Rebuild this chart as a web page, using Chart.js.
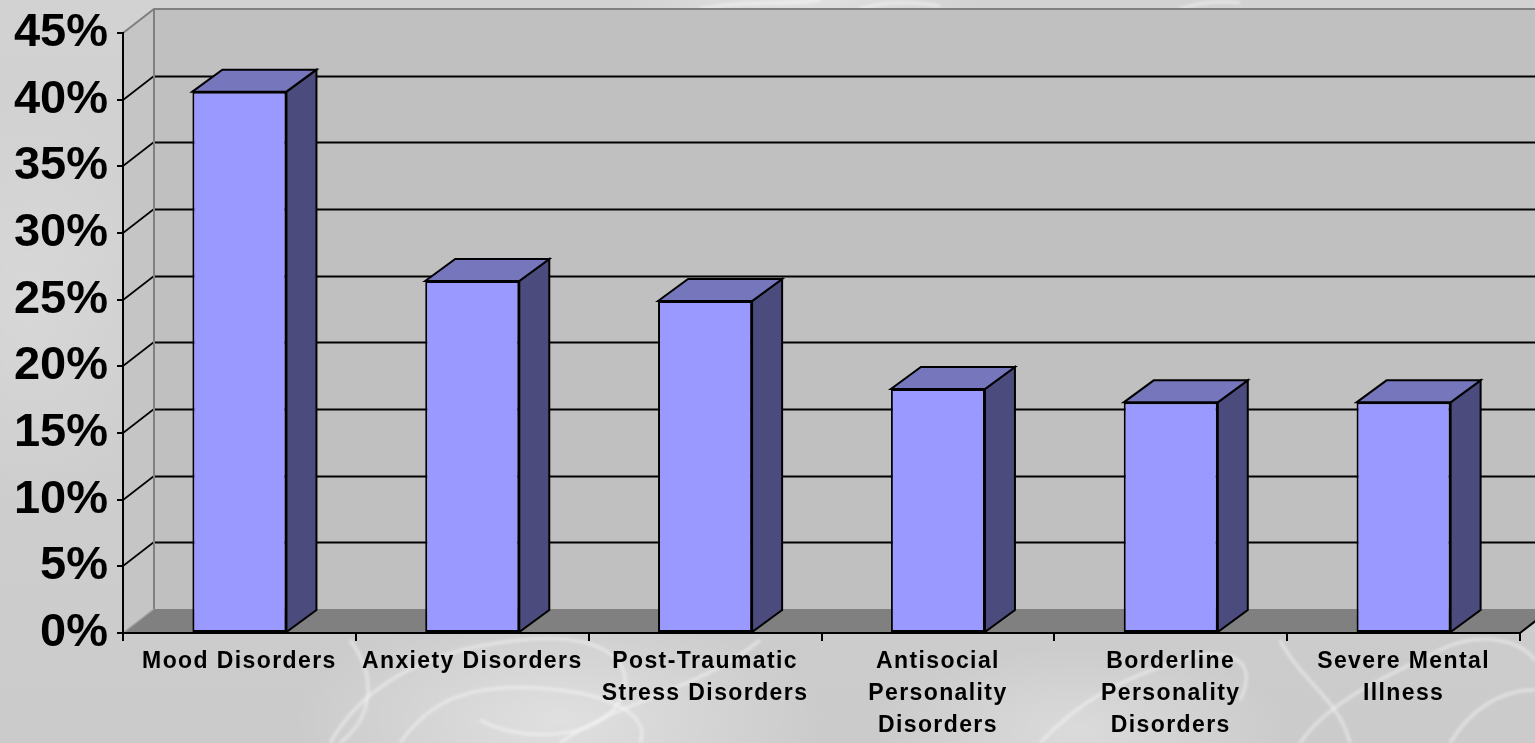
<!DOCTYPE html>
<html>
<head>
<meta charset="utf-8">
<script src="https://cdn.jsdelivr.net/npm/chart.js@4.4.1/dist/chart.umd.min.js"></script>
<style>
  html, body { margin: 0; padding: 0; }
  body {
    width: 1535px; height: 743px; overflow: hidden;
    background-color: #cecece;
    background-image:
      radial-gradient(ellipse 380px 160px at 560px 720px, rgba(255,255,255,0.40), rgba(255,255,255,0) 70%),
      radial-gradient(ellipse 300px 120px at 1080px 730px, rgba(255,255,255,0.30), rgba(255,255,255,0) 70%),
      radial-gradient(ellipse 260px 40px at 800px 0px, rgba(255,255,255,0.35), rgba(255,255,255,0) 70%),
      radial-gradient(ellipse 200px 300px at 30px 300px, rgba(255,255,255,0.18), rgba(255,255,255,0) 70%),
      linear-gradient(180deg, #d2d2d2 0%, #cbcbcb 100%);
  }
  #wrap { position: relative; width: 1535px; height: 743px; }
  #smoke { position: absolute; left: 0; top: 0; width: 1535px; height: 743px; }
  #chart { position: relative; }
</style>
</head>
<body>
<div id="wrap">
  <!-- faint smoke curves behind the chart -->
  <svg id="smoke" width="1535" height="743" viewBox="0 0 1535 743">
    <defs><filter id="soft"><feGaussianBlur stdDeviation="1.6"/></filter></defs>
    <g fill="none" stroke="white" stroke-opacity="0.45" stroke-width="3" filter="url(#soft)">
      <path d="M330,743 C360,690 420,650 520,640 C600,632 640,660 620,700 C600,740 520,743 480,720"/>
      <path d="M400,743 C430,700 470,680 560,690 C620,697 650,720 640,743"/>
      <path d="M560,743 C620,700 700,690 760,640"/>
      <path d="M350,640 C380,680 370,720 340,743"/>
      <path d="M1040,743 C1080,700 1120,680 1180,660 C1230,645 1260,660 1240,700"/>
      <path d="M1280,640 C1300,680 1340,700 1350,743"/>
      <path d="M1300,743 C1330,700 1380,680 1440,650 C1480,630 1520,640 1535,660"/>
      <path d="M1450,743 C1470,710 1500,690 1535,690"/>
      <path d="M700,9 C740,0 780,6 820,0"/>
      <path d="M860,9 C880,3 900,0 940,6"/>
      <path d="M1180,9 C1200,2 1220,0 1240,3"/>
    </g>
  </svg>
  <canvas id="chart"></canvas>
</div>
<script>
// Share of the population with each diagnosis (percent)
const categories = [
  'Mood Disorders',
  'Anxiety Disorders',
  ['Post-Traumatic', 'Stress Disorders'],
  ['Antisocial', 'Personality', 'Disorders'],
  ['Borderline', 'Personality', 'Disorders'],
  ['Severe Mental', 'Illness']
];
const prevalence = [40.6, 26.4, 24.9, 18.3, 17.3, 17.3];
const yTicks = [0, 5, 10, 15, 20, 25, 30, 35, 40, 45];

// depth offsets of the 3D box (walls) and of each column
const WALL_DX = 31, WALL_DY = 24;
const BAR_DX = 30, BAR_DY = 22;

const FONT = "'Liberation Sans', Arial, sans-serif";

// Back wall, side wall, floor and wall gridlines
const walls3d = {
  id: 'walls3d',
  beforeDraw(chart) {
    const ctx = chart.ctx;
    const y = chart.scales.y, x = chart.scales.x;
    const L = x.left, R = x.right;
    const T = y.getPixelForValue(45), B = y.getPixelForValue(0);
    const W = chart.width;
    ctx.save();
    // back wall
    ctx.fillStyle = '#c0c0c0';
    ctx.fillRect(L + WALL_DX, T - WALL_DY, W - (L + WALL_DX), B - T);
    // side wall
    ctx.fillStyle = '#c5c5c5';
    ctx.beginPath();
    ctx.moveTo(L, T); ctx.lineTo(L + WALL_DX, T - WALL_DY);
    ctx.lineTo(L + WALL_DX, B - WALL_DY); ctx.lineTo(L, B);
    ctx.closePath(); ctx.fill();
    // floor
    ctx.fillStyle = '#808080';
    ctx.beginPath();
    ctx.moveTo(L, B); ctx.lineTo(L + WALL_DX, B - WALL_DY);
    ctx.lineTo(R + WALL_DX, B - WALL_DY); ctx.lineTo(R, B);
    ctx.closePath(); ctx.fill();

    // gridlines on the back wall and side wall
    ctx.strokeStyle = '#000';
    ctx.lineWidth = 2;
    yTicks.forEach(v => {
      if (v === 0 || v === 45) return;
      const py = Math.round(y.getPixelForValue(v));
      ctx.beginPath();
      ctx.moveTo(L + WALL_DX, py - WALL_DY + 0.5);
      ctx.lineTo(W, py - WALL_DY + 0.5);
      ctx.stroke();
      ctx.lineWidth = 1.6;
      ctx.beginPath();
      ctx.moveTo(L, py); ctx.lineTo(L + WALL_DX, py - WALL_DY);
      ctx.stroke();
      ctx.lineWidth = 2;
    });

    // wall edges
    ctx.strokeStyle = '#808080';
    ctx.lineWidth = 2;
    ctx.beginPath();
    ctx.moveTo(L, T); ctx.lineTo(L + WALL_DX, T - WALL_DY); ctx.lineTo(W, T - WALL_DY);
    ctx.moveTo(L + WALL_DX, T - WALL_DY); ctx.lineTo(L + WALL_DX, B - WALL_DY);
    ctx.stroke();
    ctx.lineWidth = 1.5;
    ctx.strokeStyle = '#a0a0a0';
    ctx.beginPath();
    ctx.moveTo(L, B); ctx.lineTo(L + WALL_DX, B - WALL_DY);
    ctx.stroke();
    // right end of the floor edge
    ctx.strokeStyle = '#000';
    ctx.lineWidth = 2;
    ctx.beginPath();
    ctx.moveTo(R, B); ctx.lineTo(R + WALL_DX, B - WALL_DY);
    ctx.stroke();
    ctx.restore();
  }
};

// Top and right faces of each column, built from the bar elements
const columns3d = {
  id: 'columns3d',
  afterDatasetsDraw(chart) {
    const ctx = chart.ctx;
    ctx.save();
    ctx.lineWidth = 2;
    ctx.lineJoin = 'miter';
    ctx.strokeStyle = '#000';
    chart.getDatasetMeta(0).data.forEach(bar => {
      const p = bar.getProps(['x', 'y', 'base', 'width'], true);
      const l = p.x - p.width / 2, r = p.x + p.width / 2;
      const top = p.y, base = p.base;
      // right face
      ctx.fillStyle = '#4b4b7e';
      ctx.beginPath();
      ctx.moveTo(r, top); ctx.lineTo(r + BAR_DX, top - BAR_DY);
      ctx.lineTo(r + BAR_DX, base - BAR_DY); ctx.lineTo(r, base);
      ctx.closePath(); ctx.fill(); ctx.stroke();
      // top face
      ctx.fillStyle = '#7676bd';
      ctx.beginPath();
      ctx.moveTo(l, top); ctx.lineTo(l + BAR_DX, top - BAR_DY);
      ctx.lineTo(r + BAR_DX, top - BAR_DY); ctx.lineTo(r, top);
      ctx.closePath(); ctx.fill(); ctx.stroke();
    });
    ctx.restore();
    // category labels are drawn after this point with wider tracking
    ctx.letterSpacing = '1.4px';
  },
  afterDraw(chart) {
    chart.ctx.letterSpacing = '0px';
  }
};

new Chart(document.getElementById('chart'), {
  type: 'bar',
  data: {
    labels: categories,
    datasets: [{
      data: prevalence,
      backgroundColor: '#9999ff',
      borderColor: '#000000',
      borderWidth: 2,
      borderSkipped: false,
      barPercentage: 0.404,
      categoryPercentage: 1
    }]
  },
  options: {
    responsive: true,
    maintainAspectRatio: false,
    animation: false,
    events: [],
    layout: { padding: { top: 33, right: 15, left: 0, bottom: 0 } },
    plugins: {
      legend: { display: false },
      tooltip: { enabled: false },
      title: { display: false }
    },
    scales: {
      x: {
        grid: {
          display: true, drawOnChartArea: false, drawTicks: true,
          tickLength: 8, color: '#000', lineWidth: 2, offset: true
        },
        border: { display: true, color: '#000', width: 2 },
        ticks: {
          z: 1,
          color: '#000',
          font: { family: FONT, size: 23, weight: 'bold', lineHeight: 1.41 },
          padding: 4,
          maxRotation: 0, minRotation: 0, autoSkip: false
        },
        afterFit(scale) { scale.height = 110; }
      },
      y: {
        min: 0, max: 45,
        grid: {
          display: true, drawOnChartArea: false, drawTicks: true,
          tickLength: 6, color: '#000', lineWidth: 2
        },
        border: { display: true, color: '#000', width: 2 },
        ticks: {
          stepSize: 5,
          color: '#000',
          padding: 9,
          font: { family: FONT, size: 47, weight: 'bold', lineHeight: 1 },
          callback: v => v + '%'
        },
        afterFit(scale) { scale.width = 123; }
      }
    }
  },
  plugins: [walls3d, columns3d]
});
</script>
</body>
</html>
